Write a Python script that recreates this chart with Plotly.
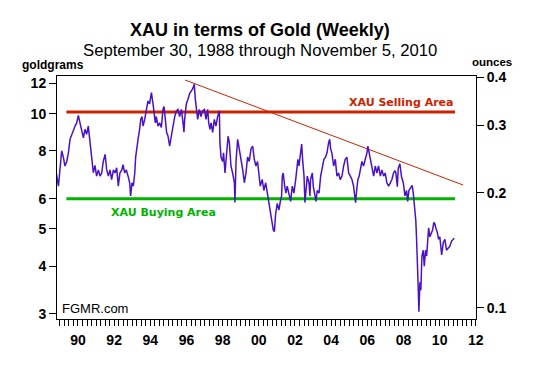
import plotly.graph_objects as go
import math

# ---- data (decimal year, goldgrams) ----
years = [
1988.75,1988.82,1988.92,1988.97,1989.04,1989.10,1989.19,1989.28,1989.38,1989.47,1989.56,1989.65,1989.75,1989.84,1989.93,
1990.02,1990.11,1990.21,1990.30,1990.39,1990.48,1990.57,1990.67,1990.76,1990.85,1990.94,1991.03,1991.13,1991.22,1991.31,
1991.40,1991.50,1991.59,1991.68,1991.77,1991.86,1991.96,1992.05,1992.14,1992.23,1992.32,1992.42,1992.49,1992.58,1992.67,
1992.77,1992.86,1992.91,1992.99,1993.06,1993.14,1993.19,1993.25,1993.32,1993.41,1993.47,1993.54,1993.60,1993.69,1993.78,
1993.87,1993.96,1994.06,1994.15,1994.20,1994.28,1994.33,1994.43,1994.52,1994.61,1994.70,1994.76,1994.83,1994.90,1994.98,
1995.07,1995.16,1995.25,1995.35,1995.44,1995.53,1995.62,1995.72,1995.81,1995.86,1995.90,1995.99,1996.08,1996.18,1996.34,
1996.43,1996.49,1996.56,1996.62,1996.71,1996.80,1996.89,1996.99,1997.08,1997.17,1997.23,1997.30,1997.36,1997.45,1997.54,
1997.63,1997.72,1997.82,1997.85,1997.91,1998.00,1998.05,1998.13,1998.22,1998.30,1998.37,1998.46,1998.55,1998.65,1998.68,
1998.74,1998.83,1998.92,1999.01,1999.11,1999.20,1999.29,1999.38,1999.47,1999.57,1999.66,1999.75,1999.84,1999.93,1999.99,
2000.08,2000.19,2000.28,2000.38,2000.47,2000.62,2000.71,2000.80,2000.86,2000.93,2001.02,2001.11,2001.19,2001.26,2001.30,
2001.35,2001.43,2001.50,2001.57,2001.67,2001.76,2001.85,2001.94,2002.04,2002.09,2002.16,2002.22,2002.31,2002.37,2002.42,
2002.50,2002.55,2002.62,2002.68,2002.77,2002.83,2002.86,2002.96,2003.01,2003.09,2003.16,2003.23,2003.33,2003.42,2003.51,
2003.60,2003.69,2003.77,2003.86,2003.92,2003.97,2004.04,2004.14,2004.23,2004.32,2004.41,2004.50,2004.60,2004.69,2004.78,
2004.87,2004.97,2005.06,2005.15,2005.24,2005.30,2005.35,2005.41,2005.48,2005.55,2005.63,2005.70,2005.79,2005.89,2005.98,
2006.03,2006.11,2006.18,2006.26,2006.35,2006.44,2006.53,2006.62,2006.72,2006.81,2006.90,2006.99,2007.08,2007.18,2007.27,
2007.36,2007.45,2007.53,2007.58,2007.66,2007.71,2007.80,2007.89,2007.99,2008.08,2008.17,2008.23,2008.30,2008.39,2008.48,
2008.54,2008.59,2008.63,2008.68,2008.72,2008.78,2008.82,2008.84,2008.85,2008.91,2008.96,2009.02,2009.09,2009.15,2009.22,
2009.28,2009.33,2009.39,2009.46,2009.54,2009.61,2009.68,2009.74,2009.79,2009.87,2009.94,2010.01,2010.11,2010.20,2010.29,
2010.38,2010.47,2010.56,2010.66,2010.75,2010.81,
]
goldgrams = [
7.22,6.87,6.47,6.87,7.60,8.00,7.70,7.30,7.50,7.90,8.57,8.83,9.10,9.28,9.46,
9.90,9.46,9.01,8.65,9.10,8.83,9.28,8.40,7.77,7.01,7.33,6.87,7.13,6.87,7.00,
7.50,7.83,7.13,6.87,7.13,6.73,7.13,7.00,7.22,6.47,7.00,7.13,7.36,7.00,7.13,
6.87,6.60,6.10,6.60,6.47,7.00,7.70,8.23,8.57,9.10,9.66,9.82,9.28,9.66,10.26,
10.79,10.60,11.34,10.60,10.17,9.46,9.82,9.28,9.46,9.20,10.26,10.44,9.66,8.94,8.73,
8.23,8.73,9.28,9.82,10.17,10.26,9.82,10.26,9.46,8.94,9.66,10.60,10.90,11.30,11.60,
11.93,10.90,10.17,9.66,10.26,9.82,10.17,10.26,9.66,10.26,9.46,9.10,9.46,8.94,9.66,
9.28,9.82,10.17,8.40,7.70,7.50,7.90,7.00,7.70,8.73,8.40,7.30,7.00,6.60,5.86,
7.50,8.57,8.10,7.50,7.13,6.60,7.00,7.70,7.50,8.10,8.23,7.60,7.30,7.50,7.13,
6.47,6.73,6.30,6.60,6.20,5.60,5.27,4.97,4.92,5.47,5.83,5.60,5.90,6.10,6.87,
7.00,6.47,6.20,6.47,6.20,5.90,6.47,6.20,6.73,7.13,7.60,7.30,8.10,8.33,7.60,
6.87,5.86,6.47,6.87,6.60,6.10,6.73,7.00,6.47,6.20,5.90,6.30,6.20,6.87,7.30,
7.60,7.70,7.90,8.40,8.57,8.10,7.90,7.30,7.60,6.87,7.00,6.73,6.87,7.30,7.60,
7.70,7.00,6.87,6.73,6.47,6.10,5.86,6.30,6.73,6.87,7.30,7.50,7.30,7.60,7.90,
8.23,7.90,7.50,7.30,6.87,7.30,7.00,7.30,6.87,7.13,6.87,7.00,6.60,6.47,6.60,
6.73,7.00,7.10,7.00,6.45,7.20,7.40,6.85,6.60,6.10,6.30,5.90,6.30,6.40,6.50,
6.20,5.90,5.60,5.27,4.77,4.15,3.46,3.20,3.04,3.63,3.46,4.25,4.40,4.00,4.40,
4.25,4.70,5.03,4.77,4.85,4.97,5.20,5.15,5.03,4.90,4.70,4.77,4.28,4.60,4.70,
4.40,4.45,4.50,4.65,4.70,4.73,
]

# reference levels and trend line
sell_level = 10.1
buy_level = 6.0
level_years = [1989.36, 2010.85]
trend_years = [1995.92, 2011.30]
trend_values = [12.24, 6.51]

GRAMS_PER_OUNCE = 31.1035

x_labels_years = list(range(1990, 2013, 2))
y_left_ticks = [3, 4, 5, 6, 8, 10, 12]
y_right_ticks = [0.1, 0.2, 0.3, 0.4]

# ---- figure ----
xmin, xmax = 1988.84, 2012.01
ylo, yhi = 2.91, 12.54

qticks = [1989 + 0.25 * i for i in range(int((2012 - 1989) / 0.25) + 1)]
qtext = [("%02d" % (int(round(t)) % 100)) if (abs(t - round(t)) < 1e-9 and int(round(t)) in x_labels_years) else "" for t in qticks]

line_col = "#4a12c8"
red = "#cc2200"
green = "#00b400"

fig = go.Figure()
fig.add_trace(go.Scatter(x=level_years, y=[sell_level, sell_level], mode="lines",
                         line=dict(color=red, width=3), hoverinfo="skip", showlegend=False))
fig.add_trace(go.Scatter(x=level_years, y=[buy_level, buy_level], mode="lines",
                         line=dict(color=green, width=3), hoverinfo="skip", showlegend=False))
fig.add_trace(go.Scatter(x=trend_years, y=trend_values, mode="lines",
                         line=dict(color=red, width=1), hoverinfo="skip", showlegend=False))
fig.add_trace(go.Scatter(x=years, y=goldgrams, mode="lines",
                         line=dict(color=line_col, width=1.5), showlegend=False, name="XAU/Gold"))
fig.add_trace(go.Scatter(x=years, y=[g / GRAMS_PER_OUNCE for g in goldgrams], mode="lines",
                         line=dict(color="rgba(0,0,0,0)", width=0), yaxis="y2",
                         hoverinfo="skip", showlegend=False))

tickfont = dict(family="Liberation Sans, Arial", size=14, color="black", weight="bold")

# the page body adds an 8px offset; the figure is sized so the plot lands where the reference has it
fig.update_layout(
    width=531, height=357,
    margin=dict(l=49, r=63, t=68, b=46),
    paper_bgcolor="white", plot_bgcolor="white",
    xaxis=dict(range=[xmin, xmax], tickvals=qticks, ticktext=qtext, ticks="outside",
               ticklen=6, tickcolor="black", tickwidth=1, showline=True, linecolor="black",
               linewidth=1, mirror=True, showgrid=False, zeroline=False, tickfont=tickfont,
               ticklabelstandoff=2, automargin=False),
    yaxis=dict(type="log", range=[math.log10(ylo), math.log10(yhi)], tickvals=y_left_ticks,
               ticktext=[str(v) for v in y_left_ticks], ticks="outside", ticklen=7,
               tickcolor="black", showline=True, linecolor="black", linewidth=1,
               showgrid=False, zeroline=False, tickfont=tickfont, automargin=False),
    yaxis2=dict(type="log", overlaying="y", side="right",
                range=[math.log10(ylo / GRAMS_PER_OUNCE), math.log10(yhi / GRAMS_PER_OUNCE)],
                tickvals=y_right_ticks, ticktext=[str(v) for v in y_right_ticks],
                ticks="outside", ticklen=7, tickcolor="black", showline=True,
                linecolor="black", linewidth=1, showgrid=False, zeroline=False,
                tickfont=tickfont, automargin=False),
)

ann_font = "Liberation Sans, Arial"
anns = [
    dict(text="<b>XAU in terms of Gold (Weekly)</b>", x=0.4845, y=1.189, size=18, color="black", xanchor="center", fam=ann_font),
    dict(text="September 30, 1988 through November 5, 2010", x=0.4845, y=1.103, size=16.7, color="black", xanchor="center", fam=ann_font),
    dict(text="<b>goldgrams</b>", x=-0.0883, y=1.045, size=12, color="black", xanchor="left", fam=ann_font),
    dict(text="<b>ounces</b>", x=0.9857, y=1.056, size=11.5, color="black", xanchor="left", fam=ann_font),
    dict(text="<b>XAU Selling Area</b>", x=0.82, y=0.89, size=11, color=red, xanchor="center", fam="DejaVu Sans"),
    dict(text="<b>XAU Buying Area</b>", x=0.253, y=0.4374, size=11, color=green, xanchor="center", fam="DejaVu Sans"),
    dict(text="FGMR.com", x=0.007, y=0.045, size=13, color="black", xanchor="left", fam=ann_font),
]
for a in anns:
    fig.add_annotation(text=a["text"], x=a["x"], y=a["y"], xref="paper", yref="paper",
                       xanchor=a["xanchor"], yanchor="middle", showarrow=False,
                       font=dict(family=a["fam"], size=a["size"], color=a["color"]))

fig.write_html("out.html")
